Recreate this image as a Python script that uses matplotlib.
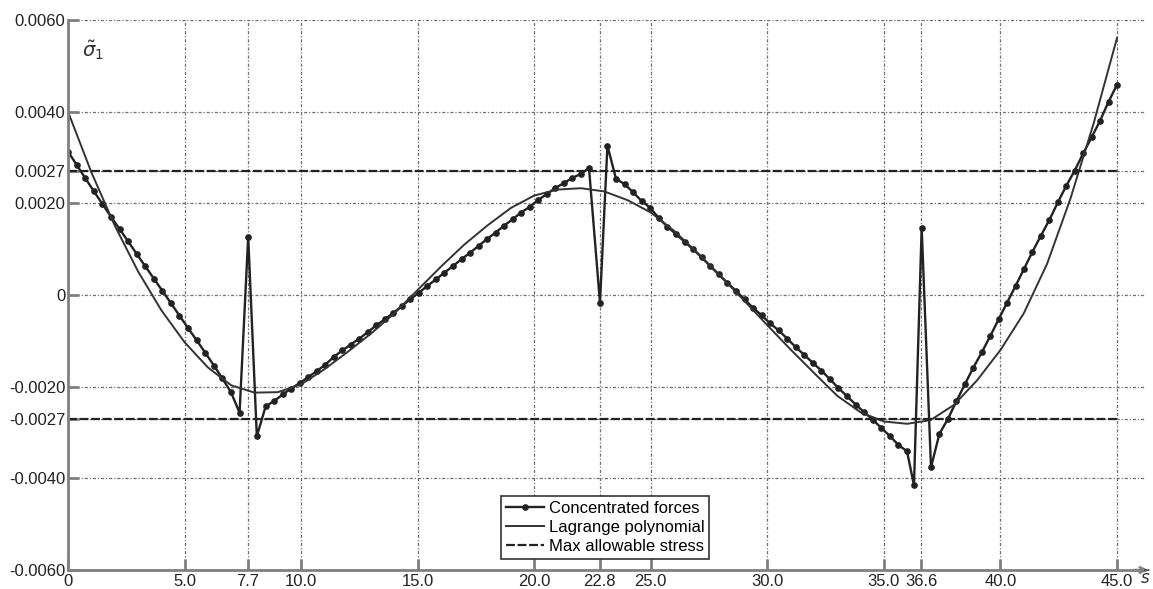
import matplotlib.pyplot as plt

plt.rcParams['font.family'] = ['Liberation Sans', 'DejaVu Sans']

# Stress along the beam under concentrated forces (forces at s = 7.7, 22.8, 36.6)
cf_s = [0.00, 0.37, 0.74, 1.10, 1.47, 1.84, 2.21, 2.58, 2.94, 3.31, 3.68, 4.05, 4.42, 4.78,
        5.15, 5.52, 5.89, 6.26, 6.62, 6.99, 7.36,
        7.73, 8.10,
        8.48, 8.85, 9.21, 9.58, 9.94, 10.31, 10.67, 11.04, 11.40, 11.77, 12.13, 12.50, 12.86,
        13.23, 13.59, 13.96, 14.32, 14.69, 15.05, 15.42, 15.78, 16.15, 16.51, 16.88, 17.24,
        17.61, 17.97, 18.34, 18.70, 19.07, 19.43, 19.80, 20.16, 20.53, 20.89, 21.26, 21.62,
        21.99, 22.35,
        22.82, 23.14,
        23.51, 23.88, 24.24, 24.61, 24.98, 25.34, 25.71, 26.08, 26.45, 26.81, 27.18, 27.55,
        27.91, 28.28, 28.65, 29.02, 29.38, 29.75, 30.12, 30.48, 30.85, 31.22, 31.59, 31.95,
        32.32, 32.69, 33.05, 33.42, 33.79, 34.16, 34.52, 34.89, 35.26, 35.62, 35.99,
        36.29, 36.62,
        37.02, 37.38, 37.75, 38.11, 38.47, 38.83, 39.20, 39.56, 39.92, 40.28, 40.65, 41.01,
        41.37, 41.73, 42.10, 42.46, 42.82, 43.18, 43.55, 43.91, 44.27, 44.64, 45.00]
cf_sigma = [0.00313, 0.00284, 0.00255, 0.00227, 0.00199, 0.00171, 0.00144, 0.00117, 0.00090,
            0.00063, 0.00036, 0.00009, -0.00018, -0.00045, -0.00072, -0.00099, -0.00126,
            -0.00154, -0.00182, -0.00212, -0.00257,
            0.00127, -0.00308,
            -0.00243, -0.00231, -0.00217, -0.00204, -0.00192, -0.00179, -0.00166, -0.00152,
            -0.00135, -0.00121, -0.00108, -0.00095, -0.00081, -0.00066, -0.00053, -0.00039,
            -0.00024, -0.00009, 0.00005, 0.00020, 0.00034, 0.00049, 0.00063, 0.00078,
            0.00092, 0.00107, 0.00122, 0.00136, 0.00151, 0.00165, 0.00180, 0.00192,
            0.00207, 0.00220, 0.00233, 0.00244, 0.00255, 0.00264, 0.00277,
            -0.00017, 0.00326,
            0.00253, 0.00242, 0.00224, 0.00205, 0.00190, 0.00168, 0.00149, 0.00133, 0.00116,
            0.00100, 0.00082, 0.00063, 0.00045, 0.00027, 0.00009, -0.00009, -0.00028,
            -0.00044, -0.00062, -0.00077, -0.00095, -0.00114, -0.00131, -0.00148, -0.00165,
            -0.00184, -0.00203, -0.00221, -0.00239, -0.00256, -0.00272, -0.00290, -0.00308,
            -0.00327, -0.00341,
            -0.00415, 0.00147,
            -0.00376, -0.00303, -0.00270, -0.00232, -0.00195, -0.00159, -0.00125, -0.00090,
            -0.00053, -0.00017, 0.00020, 0.00057, 0.00094, 0.00129, 0.00164, 0.00202,
            0.00238, 0.00271, 0.00309, 0.00344, 0.00380, 0.00422, 0.00459]

# Lagrange polynomial approximation
lp_s = [0, 1, 2, 3, 4, 5, 6, 7, 8, 9, 10, 11, 12, 13, 14, 15, 16, 17, 18, 19, 20, 21, 22,
        23, 24, 25, 26, 27, 28, 29, 30, 31, 32, 33, 34, 35, 36, 37, 38, 39, 40, 41, 42, 43,
        44, 45]
lp_sigma = [0.00400, 0.00268, 0.00152, 0.00052, -0.00033, -0.00103, -0.00158, -0.00197,
            -0.00213, -0.00212, -0.00195, -0.00162, -0.00124, -0.00084, -0.00040, 0.00011,
            0.00062, 0.00110, 0.00152, 0.00190, 0.00217, 0.00230, 0.00233, 0.00226, 0.00207,
            0.00180, 0.00140, 0.00092, 0.00041, -0.00012, -0.00066, -0.00119, -0.00170,
            -0.00220, -0.00256, -0.00276, -0.00281, -0.00273, -0.00240, -0.00186, -0.00120,
            -0.00040, 0.00068, 0.00210, 0.00375, 0.00561]

max_stress = 0.0027

x_ticks = [0, 5, 7.7, 10, 15, 20, 22.8, 25, 30, 35, 36.6, 40, 45]
x_labels = ['0', '5.0', '7.7', '10.0', '15.0', '20.0', '22.8', '25.0', '30.0', '35.0',
            '36.6', '40.0', '45.0']
y_ticks = [0.006, 0.004, 0.0027, 0.002, 0, -0.002, -0.0027, -0.004, -0.006]
y_labels = ['0.0060', '0.0040', '0.0027', '0.0020', '0', '-0.0020', '-0.0027', '-0.0040',
            '-0.0060']

fig = plt.figure(figsize=(11.53, 5.89), dpi=100)
ax = fig.add_axes([68 / 1153, 19 / 589, 1077 / 1153, 550 / 589])

ax.plot(cf_s, cf_sigma, color='#222222', lw=1.7, marker='o', ms=3.8,
        label='Concentrated forces')
ax.plot(lp_s, lp_sigma, color='#333333', lw=1.4, label='Lagrange polynomial')
ax.plot([0, 45], [max_stress, max_stress], color='#222222', lw=1.6,
        linestyle=(0, (4, 1.2)), label='Max allowable stress')
ax.plot([0, 45], [-max_stress, -max_stress], color='#222222', lw=1.6,
        linestyle=(0, (4, 1.2)))

ax.set_xlim(0, 46.2)
ax.set_ylim(-0.006, 0.006)
ax.set_xticks(x_ticks)
ax.set_xticklabels(x_labels)
ax.set_yticks(y_ticks)
ax.set_yticklabels(y_labels)
ax.grid(True, color='#707070', lw=0.9, linestyle=(0, (2.5, 1.5, 1, 1.5)))
ax.set_axisbelow(True)

for side in ['top', 'right']:
    ax.spines[side].set_visible(False)
for side in ['left', 'bottom']:
    ax.spines[side].set_color('#808080')
    ax.spines[side].set_linewidth(2)
ax.tick_params(direction='in', length=8, width=2, color='#808080', labelsize=12,
               labelcolor='#222222')
ax.tick_params(axis='y', pad=2)
ax.tick_params(axis='x', pad=3)

# arrow at the end of the s axis
ax.annotate('', xy=(46.45, -0.006), xytext=(45.6, -0.006),
            arrowprops=dict(arrowstyle='->', color='#808080', lw=1.8),
            annotation_clip=False)
ax.text(46.0, -0.00630, r'$\tilde{s}$', fontsize=12, color='#333333', va='baseline',
        ha='left', clip_on=False)
ax.text(0.6, 0.0056, r'$\tilde{\sigma}_1$', fontsize=14, color='#333333', va='top')

leg = ax.legend(loc='lower center', bbox_to_anchor=(0.4986, 0.005), fontsize=12,
                frameon=True, fancybox=False, handlelength=2.3, handletextpad=0.3,
                borderpad=0.3, labelspacing=0.25, framealpha=1)
leg.get_frame().set_edgecolor('#333333')
leg.get_frame().set_linewidth(1.2)

plt.savefig('out.png', dpi=100)
